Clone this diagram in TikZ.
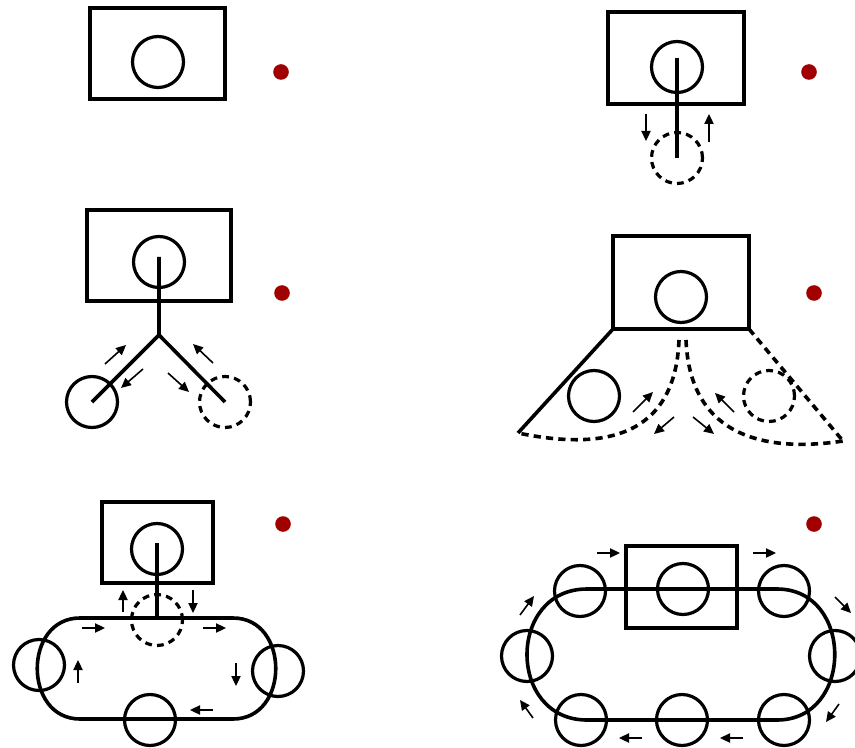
\documentclass[tikz,border=0pt]{standalone}
\usetikzlibrary{arrows.meta}
\definecolor{dotred}{RGB}{160,0,0}
\begin{document}
\begin{tikzpicture}[x=0.5pt,y=-0.5pt,
  thk/.style={line width=1.8pt},
  dsh/.style={line width=1.8pt,dash pattern=on 3.6pt off 2.6pt},
  circ/.style={circle,draw,line width=1.6pt,minimum size=25.5pt,inner sep=0pt},
  dcirc/.style={circle,draw,line width=1.6pt,minimum size=25.5pt,inner sep=0pt,dash pattern=on 3.4pt off 2.6pt},
  arr/.style={line width=0.8pt,-{Triangle[length=5pt,width=4.6pt]}},
  rdot/.style={circle,fill=dotred,minimum size=7.8pt,inner sep=0pt}]
\useasboundingbox (0,0) rectangle (855,748);

% ---------- panel 1 ----------
\draw[thk] (90,8) rectangle (225,99);
\node[circ] (p1c) at (158,62) {};
\node[rdot] (p1d) at (281,72) {};

% ---------- panel 2 ----------
\draw[thk] (608,12) rectangle (744,104);
\node[circ] (p2c) at (677,67) {};
\node[dcirc] (p2d) at (677,158) {};
\coordinate (p2t) at (677,58);
\draw[thk] (p2t) -- (p2d.center);
\coordinate (p2a1) at (646,114); \coordinate (p2a2) at (646,141);
\draw[arr] (p2a1) -- (p2a2);
\coordinate (p2b1) at (709,142); \coordinate (p2b2) at (709,114);
\draw[arr] (p2b1) -- (p2b2);
\node[rdot] (p2r) at (809,72) {};

% ---------- panel 3 ----------
\draw[thk] (87,210) rectangle (231,301);
\node[circ] (p3c) at (159,262) {};
\node[circ] (p3l) at (92,402) {};
\node[dcirc] (p3r) at (225,402) {};
\coordinate (p3t) at (159,257);
\coordinate (p3j) at (159,335);
\draw[thk,line join=miter] (p3t) -- (p3j) -- (p3l.center);
\draw[thk] (p3j) -- (p3r.center);
\coordinate (p3a1) at (105,364); \coordinate (p3a2) at (126,345);
\draw[arr] (p3a1) -- (p3a2);
\coordinate (p3b1) at (143,369); \coordinate (p3b2) at (121,388);
\draw[arr] (p3b1) -- (p3b2);
\coordinate (p3e1) at (168,373); \coordinate (p3e2) at (189,392);
\draw[arr] (p3e1) -- (p3e2);
\coordinate (p3f1) at (213,363); \coordinate (p3f2) at (193,344);
\draw[arr] (p3f1) -- (p3f2);
\node[rdot] (p3d) at (282,293) {};

% ---------- panel 4 ----------
\coordinate (p4bl) at (613,329); \coordinate (p4br) at (749,329);
\draw[thk] (613,236) rectangle (749,329);
\node[circ] (p4c) at (681,297) {};
\coordinate (p4l) at (518,433);
\coordinate (p4r) at (843,441);
\draw[thk] (p4bl) -- (p4l);
\draw[dsh] (p4br) -- (p4r);
\node[circ] (p4s) at (594,396) {};
\node[dcirc] (p4ds) at (769,396) {};
\coordinate (p4m1) at (679,340); \coordinate (p4m2) at (686,340);
\draw[dsh] (p4m1) .. controls (675,440) and (600,450) .. (p4l);
\draw[dsh] (p4m2) .. controls (690,440) and (770,452) .. (p4r);
\coordinate (p4a1) at (633,412); \coordinate (p4a2) at (653,392);
\draw[arr] (p4a1) -- (p4a2);
\coordinate (p4b1) at (674,417); \coordinate (p4b2) at (654,434);
\draw[arr] (p4b1) -- (p4b2);
\coordinate (p4e1) at (693,417); \coordinate (p4e2) at (714,434);
\draw[arr] (p4e1) -- (p4e2);
\coordinate (p4f1) at (734,412); \coordinate (p4f2) at (715,393);
\draw[arr] (p4f1) -- (p4f2);
\node[rdot] (p4d) at (814,293) {};

% ---------- panel 5 ----------
\draw[thk] (102,502) rectangle (213,583);
\node[circ] (p5c) at (157,549) {};
\coordinate (p5t) at (157,543);
\coordinate (p5b) at (157,618);
\draw[thk] (p5t) -- (p5b);
\draw[thk] (80,618) -- (233,618) .. controls (290,618) and (290,719) .. (233,719)
  -- (80,719) .. controls (23,719) and (23,618) .. cycle;
\node[dcirc] (p5dc) at (157,620) {};
\node[circ] (p5l) at (39,665) {};
\node[circ] (p5r) at (278,671) {};
\node[circ] (p5bt) at (150,720) {};
\coordinate (p5a1) at (123,612); \coordinate (p5a2) at (123,590);
\draw[arr] (p5a1) -- (p5a2);
\coordinate (p5b1) at (193,590); \coordinate (p5b2) at (193,613);
\draw[arr] (p5b1) -- (p5b2);
\coordinate (p5e1) at (82,628); \coordinate (p5e2) at (105,628);
\draw[arr] (p5e1) -- (p5e2);
\coordinate (p5f1) at (203,628); \coordinate (p5f2) at (226,628);
\draw[arr] (p5f1) -- (p5f2);
\coordinate (p5g1) at (236,663); \coordinate (p5g2) at (236,686);
\draw[arr] (p5g1) -- (p5g2);
\coordinate (p5h1) at (213,710); \coordinate (p5h2) at (190,710);
\draw[arr] (p5h1) -- (p5h2);
\coordinate (p5i1) at (78,683); \coordinate (p5i2) at (78,660);
\draw[arr] (p5i1) -- (p5i2);
\node[rdot] (p5d) at (283,524) {};

% ---------- panel 6 ----------
\draw[thk] (626,546) rectangle (737,628);
\draw[thk] (587,589) -- (777,589) .. controls (854,589) and (854,720) .. (777,720)
  -- (587,720) .. controls (507,720) and (507,589) .. cycle;
\node[circ] (p6c) at (683,589) {};
\node[circ] (p6tl) at (580,591) {};
\node[circ] (p6tr) at (784,591) {};
\node[circ] (p6l) at (527,656) {};
\node[circ] (p6r) at (835,656) {};
\node[circ] (p6bl) at (581,720) {};
\node[circ] (p6bm) at (682,720) {};
\node[circ] (p6br) at (784,720) {};
\coordinate (p6a1) at (597,553); \coordinate (p6a2) at (620,553);
\draw[arr] (p6a1) -- (p6a2);
\coordinate (p6b1) at (753,553); \coordinate (p6b2) at (776,553);
\draw[arr] (p6b1) -- (p6b2);
\coordinate (p6e1) at (835,597); \coordinate (p6e2) at (851,613);
\draw[arr] (p6e1) -- (p6e2);
\coordinate (p6f1) at (839,704); \coordinate (p6f2) at (826,722);
\draw[arr] (p6f1) -- (p6f2);
\coordinate (p6g1) at (743,738); \coordinate (p6g2) at (720,738);
\draw[arr] (p6g1) -- (p6g2);
\coordinate (p6h1) at (642,738); \coordinate (p6h2) at (619,738);
\draw[arr] (p6h1) -- (p6h2);
\coordinate (p6i1) at (533,718); \coordinate (p6i2) at (520,700);
\draw[arr] (p6i1) -- (p6i2);
\coordinate (p6j1) at (520,615); \coordinate (p6j2) at (534,596);
\draw[arr] (p6j1) -- (p6j2);
\node[rdot] (p6d) at (814,524) {};
\end{tikzpicture}
\end{document}
